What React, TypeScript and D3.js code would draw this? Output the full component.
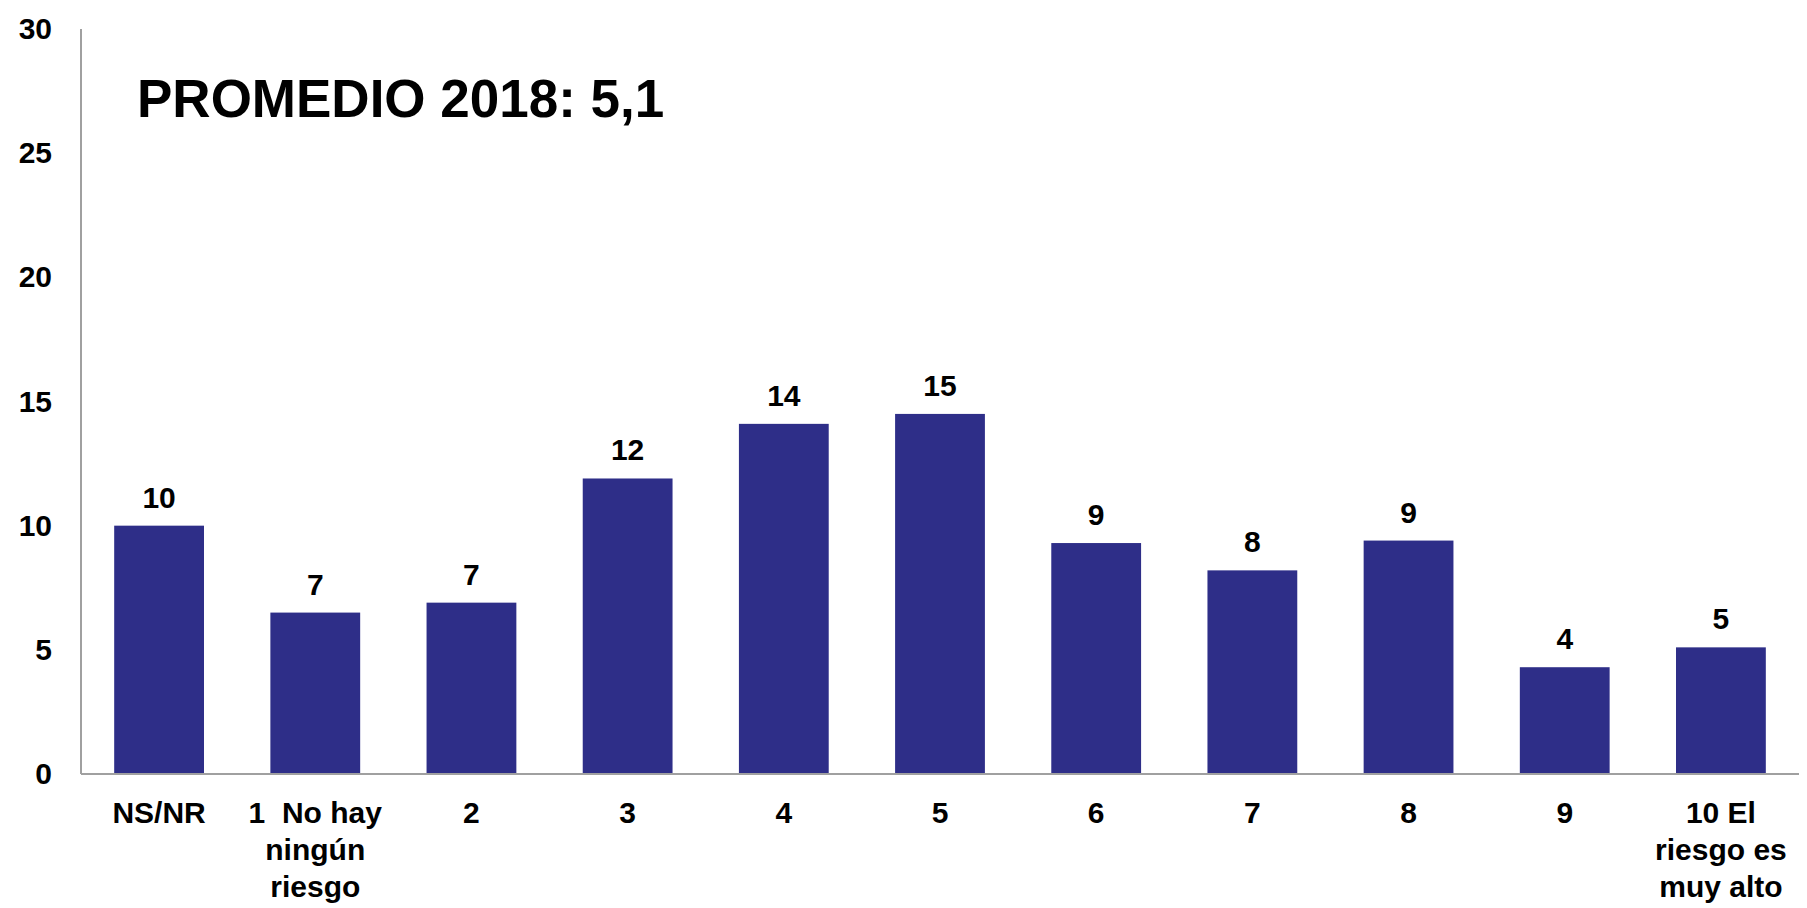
import React, { useEffect, useRef } from 'react';
import { axisLeft, scaleBand, scaleLinear, ScaleLinear, select } from 'd3';

const categories = [
  'NS/NR',
  '1  No hay|ningún|riesgo',
  '2',
  '3',
  '4',
  '5',
  '6',
  '7',
  '8',
  '9',
  '10 El|riesgo es|muy alto',
];
const values = [10.0, 6.5, 6.9, 11.9, 14.1, 14.5, 9.3, 8.2, 9.4, 4.3, 5.1];
const valueLabels = ['10', '7', '7', '12', '14', '15', '9', '8', '9', '4', '5'];
const yTicks = [0, 5, 10, 15, 20, 25, 30];
const title = 'PROMEDIO 2018: 5,1';

const FONT = '"Liberation Sans", Arial, sans-serif';
const BAR = '#2E2E88';
const AXIS = '#A0A0A0';
const FS = 30;

interface AxisLeftProps {
  scale: ScaleLinear<number, number, never>;
}

function AxisLeft({ scale }: AxisLeftProps) {
  const ref = useRef<SVGGElement>(null);

  useEffect(() => {
    if (ref.current) {
      select(ref.current)
        .call(axisLeft(scale).tickValues(yTicks).tickSize(0).tickPadding(29))
        .call((g) => {
          g.selectAll('.domain').remove();
          g.selectAll('.tick text')
            .attr('font-size', FS)
            .attr('font-weight', 'bold')
            .attr('font-family', FONT)
            .attr('fill', '#000');
        });
    }
  }, [scale]);

  return <g ref={ref} />;
}

export default function App() {
  const W = 1807;
  const H = 908;
  const margin = { top: 29, right: 8, bottom: 134, left: 81 };
  const width = W - margin.left - margin.right;
  const height = H - margin.top - margin.bottom;

  const x = scaleBand()
    .domain(categories)
    .range([0, width])
    .paddingInner(0.425)
    .paddingOuter(0.2125);
  const y = scaleLinear().domain([0, 30]).range([height, 0]);

  return (
    <svg
      width={W}
      height={H}
      style={{ position: 'absolute', left: 0, top: 0, background: '#fff' }}
    >
      <g transform={`translate(${margin.left}, ${margin.top})`}>
        <AxisLeft scale={y} />
        {values.map((v, i) => (
          <rect
            key={`bar-${i}`}
            x={x(categories[i])}
            y={y(v)}
            width={x.bandwidth()}
            height={height - y(v)}
            fill={BAR}
          />
        ))}
        {values.map((v, i) => (
          <text
            key={`val-${i}`}
            x={(x(categories[i]) ?? 0) + x.bandwidth() / 2}
            y={y(v) - 18}
            textAnchor="middle"
            fontFamily={FONT}
            fontWeight="bold"
            fontSize={FS}
          >
            {valueLabels[i]}
          </text>
        ))}
        <line x1={0} x2={0} y1={0} y2={height} stroke={AXIS} strokeWidth={2} />
        <line x1={0} x2={width} y1={height} y2={height} stroke={AXIS} strokeWidth={2} />
        {categories.map((c, i) => (
          <text
            key={`cat-${i}`}
            x={(x(c) ?? 0) + x.bandwidth() / 2}
            y={height + 49}
            textAnchor="middle"
            fontFamily={FONT}
            fontWeight="bold"
            fontSize={FS}
            style={{ whiteSpace: 'pre' }}
          >
            {c.split('|').map((line, j) => (
              <tspan
                key={j}
                x={(x(c) ?? 0) + x.bandwidth() / 2}
                dy={j === 0 ? 0 : 37}
              >
                {line}
              </tspan>
            ))}
          </text>
        ))}
        <text
          x={56}
          y={88}
          fontFamily={FONT}
          fontWeight="bold"
          fontSize={53}
        >
          {title}
        </text>
      </g>
    </svg>
  );
}
